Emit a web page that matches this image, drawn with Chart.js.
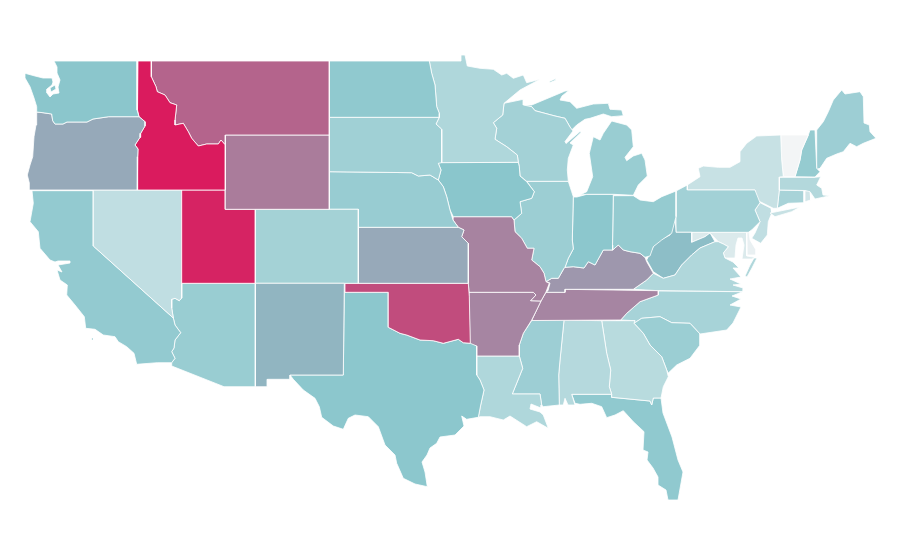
<!DOCTYPE html>
<html>
<head>
<meta charset="utf-8">
<style>
html, body { margin: 0; background: #fff; }
#map { display: block; }
</style>
<script src="https://cdn.jsdelivr.net/npm/chart.js@4"></script>
</head>
<body>
<canvas id="map" width="900" height="560"></canvas>
<script>
// state outlines as x,y pairs on the map grid, one list per ring
const WA = [[54,61,137,61,137,110,139,116.7,108.7,116.7,93,119,87,122,67,122,63,124,55,124,52.7,120.7,51.7,114,43,112.7,36.7,112,36.7,106.7,34,98,30,86.7,25,78,25,73.3,35,76,43,78,52,78,53,82,52,85,47,89,47,93,50,97,53,94,59,93,58,87,60,80,57,73,57,67], [50,88,55,85,56,89,51,92]];
const OR = [[36.7,112,43,112.7,51.7,114,52.7,120.7,55,124,63,124,67,122,87,122,93,119,108.7,116.7,139,116.7,145,121.7,145,126,140.7,133.3,140,137.3,135,145,138,149,137.7,156.7,137.3,190,29.3,190,29.3,183,27.3,175,30,165,32.7,156.7,34,136.7,36,125]];
const ID = [[138,61,151.3,61,151.3,76.7,156,86.7,157.3,91.7,165,95,170,102.7,176.7,105,175,120,175,125,183.3,123.3,188.3,131.7,191.7,138.3,198.3,146,206.7,144,218.3,144,221,140,225.3,145,225.3,190,137.3,190,137.7,156.7,138,149,135,145,140,137.3,140.7,133.3,145,126,145,121.7,139,116.7,137.5,110]];
const MT = [[151.3,61,329.3,61,329.3,135,225.3,135,225.3,145,221,140,218.3,144,206.7,144,198.3,146,191.7,138.3,188.3,131.7,183.3,123.3,175,125,175,120,176.7,105,170,102.7,165,95,157.3,91.7,156,86.7,151.3,76.7]];
const WY = [[225.3,135,329.3,135,329.3,209.3,225.3,209.3]];
const UT = [[181.7,190,225.3,190,225.3,209.3,255.3,209.3,255.3,283.3,181.7,283.3]];
const NV = [[93.3,190,181.7,190,181.7,298,179.3,300.7,175,298.3,171.7,299.3,171.7,308,173.3,318,93.3,246]];
const CA = [[32,190.7,93.3,190.7,93.3,246,173.3,318,175,325,180.7,332.7,175,340,174,348,171.7,351.7,175,358.3,171.7,362.7,157.3,362.7,136.7,364.3,134,353.3,126.7,346.7,118.3,341.7,115,336.7,103.3,335,95,329.3,85.7,328.3,84.3,316.7,75,305,66.7,295,67.3,285,60,280,57,270,62,272,58,265,70,263,70,261,58,261,55,262,50,260,40,248.3,38.3,231.7,30,221.7,33.3,203.3], [91.5,338,93.5,338,93.5,340,91.5,340]];
const AZ = [[181.7,283.3,255.3,283.3,255.3,386.7,224,386.7,171.7,366,171.7,362.7,175,358.3,171.7,351.7,174,348,175,340,180.7,332.7,175,325,173.3,318,171.7,308,171.7,299.3,175,298.3,179.3,300.7,181.7,298]];
const NM = [[255.3,283.3,344.3,283.3,343.3,375,290,375,290,379.3,267.3,379.3,267.3,386.7,255.3,386.7]];
const CO = [[255.3,209.3,358.3,209.3,358.3,283.3,255.3,283.3]];
const ND = [[329.3,61,429.3,61,431.7,73.3,435,85,436.7,106.7,439.3,113.3,439.3,117.3,329.3,117.3]];
const SD = [[329.3,117.3,439.3,117.3,436,124,441.7,129.3,441.7,162.7,438.3,163.3,441,170,438.3,180,430,175,418.3,176,411.7,172.7,329.3,171.7]];
const NE = [[329.3,171.7,411.7,172.7,418.3,176,430,175,438.3,180,443.3,186.7,446.7,196.7,450,210,453,220,458.3,227.3,358.3,227.3,358.3,209.3,329.3,209.3]];
const KS = [[358.3,227.3,458.3,227.3,464,230,461.7,236.7,468.3,243.3,468.3,283.3,358.3,283.3]];
const OK = [[345,283.3,468.3,283.3,469.3,296.7,470.3,343.3,463.3,342.7,458.3,339.3,443.3,343.3,433.3,340.7,420,340,406.7,335,400,333.3,395,330.7,388.3,327.3,388.3,292.3,345,292.3]];
const TX = [[344.3,292.3,388.3,292.3,388.3,327.3,395,330.7,400,333.3,406.7,335,420,340,433.3,340.7,443.3,343.3,458.3,339.3,463.3,342.7,470.3,343.3,476.7,346,476.7,375,480,380,484,390,480.7,405,478.3,417.3,466.7,419.3,461.7,416,464,426,455,435,440,437,436.7,443.3,430,448,427,455,422,462,425,472,427.3,486.7,415,484,403.3,478.3,396.7,463.3,395,455,385,445,378.3,426.7,368.3,416.7,355,415,348.3,418.3,343.3,429.3,333.3,426,321.7,417.3,319.3,406.7,315,398.3,303.3,390,293.3,379.3,290,375,343.3,375]];
const MN = [[429.3,61,461,61,461,55,465,55,467.3,66,480,68.3,493.3,69.3,501.7,75,506.7,73.3,513.3,78.3,523.3,75,526.7,82.7,540,79.3,520,90,504,103.3,502.7,115,493.3,122.7,496.7,128.3,495,139.3,506.7,146.7,517.3,155,518.3,162.3,441.7,162.7,441.7,129.3,436,124,439.3,117.3,439.3,113.3,436.7,106.7,435,85,431.7,73.3]];
const IA = [[440,162.5,518.3,162.3,519.3,166.7,520,176,526.7,181.7,534.3,191.7,531.7,198.3,520,201.7,521.7,213.3,514,220,511.7,216.7,453.3,216.7,450,210,446.7,196.7,443.3,186.7,438.3,180,441,170,438.3,163.3]];
const MO = [[453.3,216.7,511.7,216.7,514,220,515,231.7,521.7,238.3,527.3,248.3,534,248.3,531.7,260,540,266.7,544,273.3,546,281.7,549.3,283.3,546,292,541,301,530.7,300.7,536,295,533.3,292.3,469,292.3,468.3,283.3,468.3,243.3,461.7,236.7,464,230,458.3,227.3,453,220]];
const AR = [[469,292.3,533.3,292.3,536,295,530.7,300.7,541,301,536.7,310,531.7,320,523.3,333.3,519.3,345,519.3,356,476.7,356,476.7,346,470,345]];
const LA = [[476.7,356,519.3,356,522.7,368.3,512.3,394,540,394,541.7,405,541,408,531,404,530,409,540,412,543.3,415,548.3,428.3,536.7,421.7,526.7,426.7,510,416,503.3,420,490,416.7,480,416.7,478.3,417.3,480.7,405,484,390,480,380,476.7,375]];
const WI = [[504,103.3,523.3,99.3,523.3,105,531.7,106.7,535,110.7,555,116,565,118.3,570,127,573,131,565,141.5,566,143.5,580,131.5,581,132.5,570,143,573.3,145,568.3,158.3,567.3,170,568.3,181.3,526.7,181.3,520,176,519.3,166.7,518.3,162.3,517.3,155,506.7,146.7,495,139.3,496.7,128.3,493.3,122.7,502.7,115]];
const MI = [[523.3,105,531.7,105,558,94,565,91,568.7,90.7,562,96,560,100,570,101.7,576.7,108.3,593.3,104,608.3,103.3,610,109.3,621.7,110,623.3,115.7,611.7,116.7,603.3,114,590,118.3,585,119.3,576.7,125,571.7,130,570,127,565,118.3,555,116,535,110.7,531.7,106.7], [580,195,586.7,191.7,592.7,176.7,589.3,153.3,593.3,136.7,600,140,603.3,133.3,611.7,121,626.7,125,631.7,130,633.3,146.7,625,157.3,626.7,160.7,633.3,156,641.7,153.3,645,160,647.3,176,638.3,185,633.3,195.3,613.3,194.3,586.7,194.3], [549.5,81.5,556,78.5,556,80,550,82.5], [615,115,620,114,620,116,615,116.5]];
const IL = [[530,181.3,568.3,181.3,571.7,191.7,573.3,196.7,572.3,240,573.3,249,568.3,258.3,565,267.3,564,268.3,558.3,278.3,551.7,278.3,546,281.7,544,273.3,540,266.7,531.7,260,534,248.3,527.3,248.3,521.7,238.3,515,231.7,514,220,521.7,213.3,520,201.7,531.7,198.3,534.3,191.7,526.7,181.3]];
const IN = [[573.3,197,577,197,586.7,194.3,613.3,194.3,612.5,245,612.7,250,603.3,250,595,265,588.3,261.7,584,268,573.3,266.7,565,267.3,568.3,258.3,573.3,249,572.3,240]];
const OH = [[613.3,195.7,633.3,195.7,640,200,653.3,201.7,661.7,196.7,676,191,676,216.7,671.7,233.3,661.7,240,653.3,246.7,650,256,645,257.3,640,253.3,630,251.7,623.3,250,618.3,245,612.7,250,612.5,245]];
const KY = [[546,281.7,551.7,278.3,558.3,278.3,564,268.3,565,267.3,573.3,266.7,584,268,588.3,261.7,595,265,603.3,250,612.7,250,618.3,245,623.3,250,630,251.7,640,253.3,645,257.3,646.7,261.7,653.3,273.3,646.7,280,633.3,289.3,565,289.3,565,292.3,546,292.3,548,290.7,550,283]];
const TN = [[546,292.3,565,292.3,565,289.3,658.3,290.7,658.3,295,640,301.7,626.7,313.3,620.7,320,531.7,320.5,536.7,310,541,301]];
const MS = [[531.7,320.5,564,320,560,360,558.7,375,559.3,405,543.3,406.7,541.7,405,540,394,512.3,394,522.7,368.3,519.3,356,519.3,345,523.3,333.3]];
const AL = [[564,320,601.7,320.7,606.7,353.3,610.7,370,609.3,386.7,611.7,394.3,571.7,394.3,575,405,568,405,565,398.3,563.3,405,559.3,405,558.7,375,560,360]];
const GA = [[601.7,320.7,635,320.7,634,323.3,643.3,333.3,650,345,661.7,356.7,666.7,370,668.3,376.7,663.3,386.7,661,398,653.3,398,651.7,405,650,401,611.7,397.3,611.7,394.3,609.3,386.7,610.7,370,606.7,353.3]];
const FL = [[571.7,394.3,611.7,394.3,611.7,397.3,650,401,651.7,405,653.3,398,661,398,663,413,672,437,678,460,683,472,678,500,668,500,666,490,658,485,658,477,653,468,647,460,648,452,643,450,644,431.7,633.3,421.7,623.3,410.7,615,415,606.7,417.7,601.7,406.7,591.7,403.3,580,404.3,575,403.3]];
const SC = [[634,323.3,641.7,318.3,660,316.7,671.7,322.7,690,323.3,700,334,700,345,690,358.3,676.7,365,668.3,373,666.7,370,661.7,356.7,650,345,643.3,333.3]];
const NC = [[658.3,291,742.7,291.7,732,296,741,299,730,305,741,307,733,323,726.7,330,700,334,690,323.3,671.7,322.7,660,316.7,641.7,318.3,634,323.3,635,320.7,620.7,320,626.7,313.3,640,301.7,658.3,295]];
const VA = [[715,241.7,718.3,241.7,723.3,244,728.3,246.7,723.3,253,725,258,733,262,739,268,733,268,741,277,730,279,741,284,733,285,743,288,742.7,291.7,658.3,290.7,633.3,289.3,646.7,280,653.3,273.3,663.3,278.3,675,275,681.7,265,691.7,255,700,248], [745,276,750,265,754,258,757,258,752,268,747,277]];
const WV = [[675,216.7,676,232.3,691.7,232.3,691.7,242.3,705,236.7,710,233,715,241.7,700,248,691.7,255,681.7,265,675,275,663.3,278.3,653.3,271.7,646.7,260,653.3,246.7,660,240,670,235]];
const PA = [[676,191,687.3,185,687.3,190,755,190,760,202.7,755,210,760,221.7,751.7,230,748.3,232.3,676,232.3]];
const NY = [[687.3,185,700,176.7,698.3,168.3,703.3,166,718.3,167.3,730,167.3,740,161.7,740,151.7,746.7,143.3,756.7,136,780.7,135,781.7,160,783.3,176.7,779.3,177,779.3,190,777.3,208.3,773.3,208.3,756.7,200,755,190,687.3,190], [770,213,785,210,800,207,791.7,211.7,775,216.7]];
const VT = [[780.7,135,808.3,135,801.7,150,800,160,795,176.7,783.3,176.7,781.7,160]];
const NH = [[810,130,815,130,816.7,168.3,820,171.7,815,177,795,176.7,800,160,801.7,150,808.3,135]];
const ME = [[816.7,130,823.3,121.7,828.3,111.7,833.3,100,841.7,90,845,94,860,91.7,863.3,96.7,864,123,869.3,125,870,131.7,876,138.3,863.3,143.3,856.7,146.7,850,143.3,843.3,151.7,836.7,154,826.7,158.3,820,168.3,816.7,169.3]];
const MA = [[779.3,177.3,815,177.3,820.7,176.7,816.7,185,821.7,188.3,823,195,830,195.7,815,199,810,191.7,805,190.5,779.3,190]];
const RI = [[805,190.7,810,190.7,810.7,200,805,201.7]];
const CT = [[779.3,190,804,190.7,804,202.7,788.3,203.3,777.3,208.3]];
const NJ = [[760,202.7,771,208.3,771.7,213.3,768.3,221.7,767.3,235,760.7,243.3,751.7,238.3,755,233,760,221.7,755,210]];
const DE = [[746.7,232,749,232,750,240,756,250,756,255,747,255]];
const MD = [[691.7,232.3,746.7,232.3,746.7,256,755,257.3,752,259,742,259,744,245,742,238,738,238,736,245,735,258,725,258,723.3,253,728.3,246.7,723.3,244,718.3,241.7,710,233,705,236.7,691.7,242.3]];

const stateNames = ['WA','OR','ID','MT','WY','UT','NV','CA','AZ','NM','CO','ND','SD','NE','KS','OK','TX','MN','IA','MO','AR','LA','WI','MI','IL','IN','OH','KY','TN','MS','AL','GA','FL','SC','NC','VA','WV','PA','NY','VT','NH','ME','MA','RI','CT','NJ','MD','DE'];
const stateValues = [49.5,57.4,99,75,69,96.4,24.3,45.7,42.9,54.3,37.6,47,39.5,43.3,57.5,83,49,32.4,50,67,66.5,32.4,38,42.9,41.4,49,44.8,62,66.5,41,29.5,28,47,42,36,32,52,38.6,21,0,44.8,41,30.5,16.7,35.7,24.3,11.4,5];
const stateShapes = [WA,OR,ID,MT,WY,UT,NV,CA,AZ,NM,CO,ND,SD,NE,KS,OK,TX,MN,IA,MO,AR,LA,WI,MI,IL,IN,OH,KY,TN,MS,AL,GA,FL,SC,NC,VA,WV,PA,NY,VT,NH,ME,MA,RI,CT,NJ,MD,DE];

const rampStops = [0, 50, 75, 100];
const rampColors = [[243,245,246], [138,198,204], [180,100,140], [220,24,92]];

const colorFor = (value) => {
    let i = 0;
    while (i < rampStops.length - 2 && value > rampStops[i + 1]) i++;
    const t = (value - rampStops[i]) / (rampStops[i + 1] - rampStops[i]);
    const mix = rampColors[i].map((c, k) => Math.round(c + (rampColors[i + 1][k] - c) * t));
    return `rgb(${mix.join(',')})`;
};

const ringPoints = (ring) => {
    const points = [];
    for (let i = 0; i < ring.length; i += 2) points.push({ x: ring[i], y: ring[i + 1] });
    points.push({ x: ring[0], y: ring[1] });
    return points;
};

const datasets = [];
stateShapes.forEach((rings, index) => {
    rings.forEach((ring) => {
        datasets.push({
            label: stateNames[index],
            data: ringPoints(ring),
            showLine: true,
            fill: 'shape',
            backgroundColor: colorFor(stateValues[index]),
            borderColor: '#fff',
            borderWidth: 0.8,
            pointRadius: 0,
            tension: 0,
        });
    });
});

new Chart(document.getElementById('map'), {
    type: 'scatter',
    data: { datasets },
    options: {
        responsive: false,
        animation: false,
        events: [],
        layout: { padding: 0 },
        plugins: { legend: { display: false }, tooltip: { enabled: false } },
        scales: {
            x: { type: 'linear', display: false, min: 0, max: 900 },
            y: { type: 'linear', display: false, min: 0, max: 560, reverse: true },
        },
    },
});
</script>
</body>
</html>
